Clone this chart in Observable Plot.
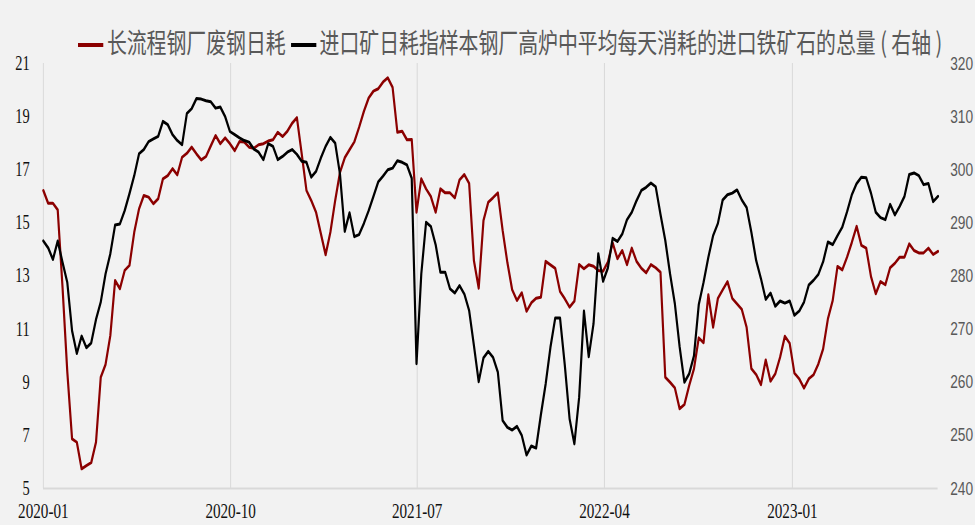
<!DOCTYPE html>
<html><head><meta charset="utf-8">
<script src="https://cdn.jsdelivr.net/npm/d3@7"></script>
<script src="https://cdn.jsdelivr.net/npm/@observablehq/plot@0.6"></script>
<style>
html,body{margin:0;padding:0;background:#f2f2f2;overflow:hidden;}
#wrap{width:1350px;transform:scaleX(0.722222);transform-origin:0 0;}
#legend{height:40px;box-sizing:border-box;padding-top:27px;line-height:28px;font-family:"Noto Sans CJK SC",sans-serif;font-size:27.5px;color:#595959;white-space:nowrap;padding-left:108px;position:relative;z-index:2;}
.sw{display:inline-block;width:35px;height:4px;vertical-align:middle;margin-right:5px;position:relative;top:-1px;}
#chart svg{background:none;}
</style></head><body><div id="wrap"><div id="legend"></div><div id="chart"></div></div>
<script>
const seriesNames = ["长流程钢厂废钢日耗", "进口矿日耗指样本钢厂高炉中平均每天消耗的进口铁矿石的总量 ( 右轴 )"];
const seriesColors = ["#8b0000", "#000000"];
const firstWeek = "2020-01-03";
const xTickDates = ["2020-01-03", "2020-10-03", "2021-07-03", "2022-04-03", "2023-01-03"];
const xTickLabels = ["2020-01", "2020-10", "2021-07", "2022-04", "2023-01"];
const leftTicks = [5, 7, 9, 11, 13, 15, 17, 19, 21];
const rightTicks = [240, 250, 260, 270, 280, 290, 300, 310, 320];

// 长流程钢厂废钢日耗 (weekly, left axis)
const scrapValues = [
16.22,15.74,15.74,15.49,12.6,9.4,6.87,6.74,5.74,5.86,
5.97,6.74,9.19,9.67,10.76,12.83,12.52,13.21,13.40,14.65,
15.53,16.03,15.97,15.72,15.91,16.66,16.78,17.04,16.81,17.47,
17.62,17.85,17.6,17.37,17.50,17.9,18.29,17.98,18.20,17.98,
17.72,18.06,18.04,17.85,17.81,17.94,17.98,18.08,18.13,18.41,
18.25,18.45,18.75,18.96,17.6,16.22,15.84,15.40,14.6,13.80,
14.65,15.84,16.9,17.45,17.75,18.05,18.6,19.2,19.7,19.96,
20.05,20.3,20.46,20.1,18.41,18.45,18.13,18.14,15.40,16.66,
16.28,15.99,15.40,16.28,16.13,16.13,15.94,16.62,16.82,16.49,
13.58,12.54,15.09,15.78,15.95,16.13,14.72,13.5,12.48,12.08,
12.37,11.67,11.99,12.16,12.20,13.55,13.42,13.29,12.42,12.14,
11.83,12.05,13.43,13.27,13.42,13.37,13.21,13.18,13.52,14.25,
13.65,13.96,13.43,14.05,13.55,13.29,13.12,13.43,13.31,13.14,
9.19,9.00,8.79,8.00,8.16,8.88,9.51,10.67,10.49,12.29,
11.07,12.16,12.48,12.79,12.16,11.95,11.74,11.07,9.51,9.29,
8.91,9.84,9.04,9.32,9.94,10.73,10.47,9.34,9.13,8.78,
9.13,9.28,9.69,10.26,11.39,12.08,13.36,13.23,13.71,14.27,
14.87,14.15,14.05,12.98,12.33,12.79,12.67,13.31,13.48,13.71,
13.71,14.21,13.96,13.87,13.87,14.05,13.81,13.93];

// 进口矿日耗 (weekly, right axis)
const oreValues = [
286.6,285.3,283.1,286.6,282.6,278.8,269.7,265.4,268.7,266.5,
267.4,271.8,275.1,280.4,284.2,289.6,289.8,292.3,295.5,298.9,
303.0,303.8,305.3,305.8,306.3,309.1,308.5,306.6,305.5,304.7,
310.6,311.5,313.4,313.3,313.0,312.8,311.6,311.8,310.0,307.2,
306.6,306.0,305.5,305.2,303.9,303.3,301.9,304.9,304.4,301.9,
302.5,303.3,303.8,302.9,301.6,301.4,298.6,299.7,302.2,304.4,
306.1,305.0,299.2,288.4,291.9,287.4,287.8,289.9,292.3,295.0,
297.7,298.8,300.0,300.3,301.7,301.4,300.9,298.4,263.5,280.4,
290.1,289.3,285.9,280.7,280.7,277.6,276.8,278.2,276.6,273.5,
266.9,260.1,264.6,265.8,264.7,261.9,252.8,251.5,251.0,251.7,
250.0,246.3,248.0,247.6,253.9,259.7,266.6,272.1,272.1,263.2,
253.1,248.4,257.2,273.4,264.8,271.0,284.2,279.0,281.5,287.1,
286.5,287.9,290.6,292.0,294.2,296.1,296.7,297.5,296.8,291.6,
286.7,280.4,274.8,266.7,260.0,261.6,265.0,274.6,278.8,283.5,
287.6,289.9,294.3,295.3,295.6,296.2,294.3,292.9,288.2,282.9,
279.5,275.6,276.8,274.3,275.3,274.9,275.3,272.6,273.4,275.1,
278.3,279.2,280.3,282.7,286.4,285.9,287.6,289.2,292.1,295.3,
297.4,298.6,298.5,295.6,292.0,291.0,290.6,293.5,291.5,293.1,
295.0,299.1,299.4,298.9,297.2,297.4,294.0,295.0];

// legend
const lg = document.getElementById("legend");
seriesNames.forEach((name, i) => {
  const sw = document.createElement("span");
  sw.className = "sw";
  sw.style.background = seriesColors[i];
  if (i > 0) sw.style.marginLeft = "7px";
  lg.appendChild(sw);
  lg.appendChild(document.createTextNode(name));
});

const start = new Date(firstWeek);
const dates = scrapValues.map((_, i) => d3.utcDay.offset(start, 7 * i));
const scrap = scrapValues.map((v, i) => ({date: dates[i], v}));
const ore = oreValues.map((v, i) => ({date: dates[i], v}));
// map right-axis value onto left scale
const toLeft = v => 5 + (v - 240) / 80 * 16;
const tickDates = xTickDates.map(d => new Date(d));

const s = 975 / 1350;
const chart = Plot.plot({
  width: 1350,
  height: 485,
  marginTop: 23,
  marginBottom: 37,
  marginLeft: 43 / s,
  marginRight: 37.4 / s,
  style: {background: "none", fontFamily: "Liberation Serif", fontSize: "21px", color: "#000"},
  x: {type: "utc", domain: [dates[0], dates[dates.length - 1]], label: null},
  y: {domain: [5, 21], label: null},
  marks: [
    Plot.gridX(tickDates, {stroke: "#d9d9d9", strokeOpacity: 1, strokeWidth: 1.4}),
    Plot.ruleY([5], {stroke: "#d9d9d9", strokeWidth: 2}),
    Plot.axisX(tickDates, {tickSize: 0, tickPadding: 15, tickFormat: d => xTickLabels[tickDates.findIndex(t => +t === +d)], fontSize: 21, fontFamily: "Liberation Serif", fill: "#111"}),
    Plot.axisY(leftTicks, {anchor: "left", tickSize: 0, tickPadding: 19, fontSize: 20, fontFamily: "Liberation Serif", fill: "#111"}),
    Plot.axisY(rightTicks.map(toLeft), {anchor: "right", tickSize: 0, tickPadding: 17, tickFormat: d => rightTicks[rightTicks.map(toLeft).indexOf(d)], fontSize: 19, fontFamily: "Liberation Sans", fill: "#595959"}),
    Plot.lineY(scrap, {x: "date", y: "v", stroke: seriesColors[0], strokeWidth: 3}),
    Plot.lineY(ore, {x: "date", y: d => toLeft(d.v), stroke: seriesColors[1], strokeWidth: 3})
  ]
});
document.getElementById("chart").appendChild(chart);
</script>
</body></html>
